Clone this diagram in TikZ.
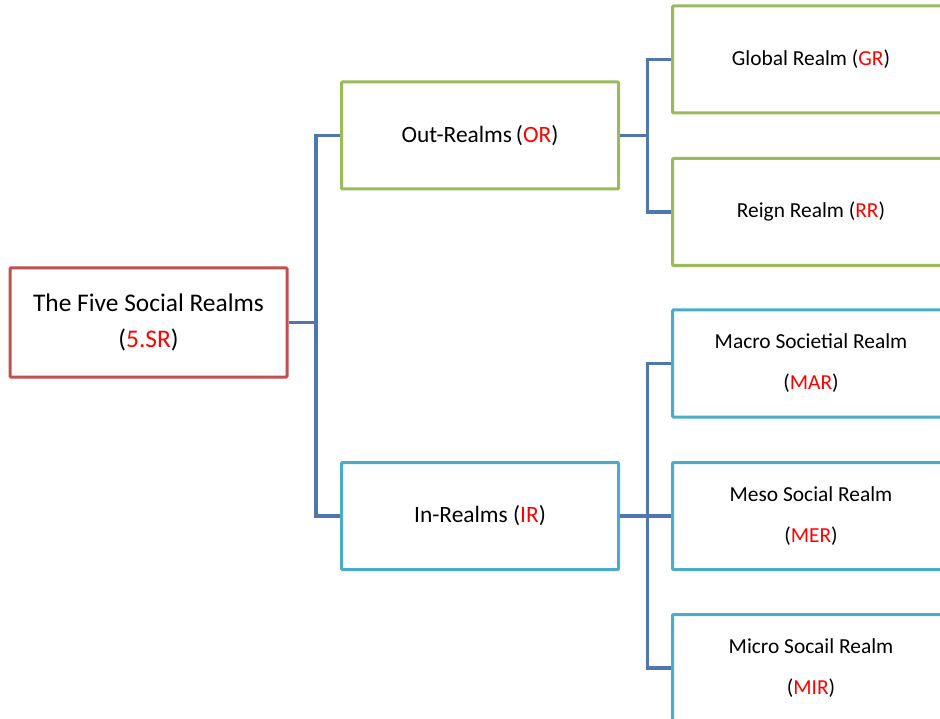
\documentclass[tikz,border=0pt]{standalone}
\usepackage{fontspec}
\setmainfont{Carlito}
\usepackage{tikz}
\usepackage{xcolor}
\definecolor{rootred}{HTML}{C0504D}
\definecolor{outgreen}{HTML}{9BBB59}
\definecolor{incyan}{HTML}{4BACC6}
\definecolor{linkblue}{HTML}{4F77AE}
\definecolor{abbrred}{HTML}{FF0000}
\tikzstyle{realm} = [rectangle, draw, line width=3pt, fill=white, minimum width=277pt, minimum height=107pt, align=center, inner sep=0pt, rounded corners=1pt]
\tikzstyle{link} = [draw=linkblue, line width=3.5pt]
\newcommand{\abbr}[1]{(\textcolor{abbrred}{#1})}

\begin{document}
\begin{tikzpicture}[x=1pt, y=1pt]
			\tikzset{every node/.style={realm}}
\clip (0,0) rectangle (940,-719);
\useasboundingbox (0,0) rectangle (940,-719);
\fill[white] (0,0) rectangle (940,-719);

\node[draw=rootred, minimum height=109pt, font=\fontsize{25.4}{36}\selectfont] (root) at (148.5,-322.5) {The Five Social Realms\\\abbr{5.SR}};

\node[draw=outgreen, font=\fontsize{23.4}{30}\selectfont] (or) at (480,-135.5) {Out-Realms\,\abbr{OR}};
\node[draw=incyan, font=\fontsize{23.4}{30}\selectfont] (ir) at (480,-516) {In-Realms \abbr{IR}};

\node[draw=outgreen, font=\fontsize{21.4}{41}\selectfont] (gr) at (811,-59.5) {Global Realm \abbr{GR}};
\node[draw=outgreen, font=\fontsize{21.4}{41}\selectfont] (rr) at (811,-212) {Reign Realm \abbr{RR}};
\node[draw=incyan, font=\fontsize{21.4}{41}\selectfont] (mar) at (811,-363.5) {Macro Societial Realm\\\abbr{MAR}};
\node[draw=incyan, font=\fontsize{21.4}{41}\selectfont] (mer) at (811,-516) {Meso Social Realm\\\abbr{MER}};
\node[draw=incyan, font=\fontsize{21.4}{41}\selectfont] (mir) at (811,-668) {Micro Socail Realm\\\abbr{MIR}};

\foreach \from/\to in {root/or,root/ir,or/gr,or/rr,ir/mar,ir/mer,ir/mir}
{
	\draw[link] (\from.east) -- ++(27.5,0) |- (\to.west);
}

		\end{tikzpicture}
\end{document}
